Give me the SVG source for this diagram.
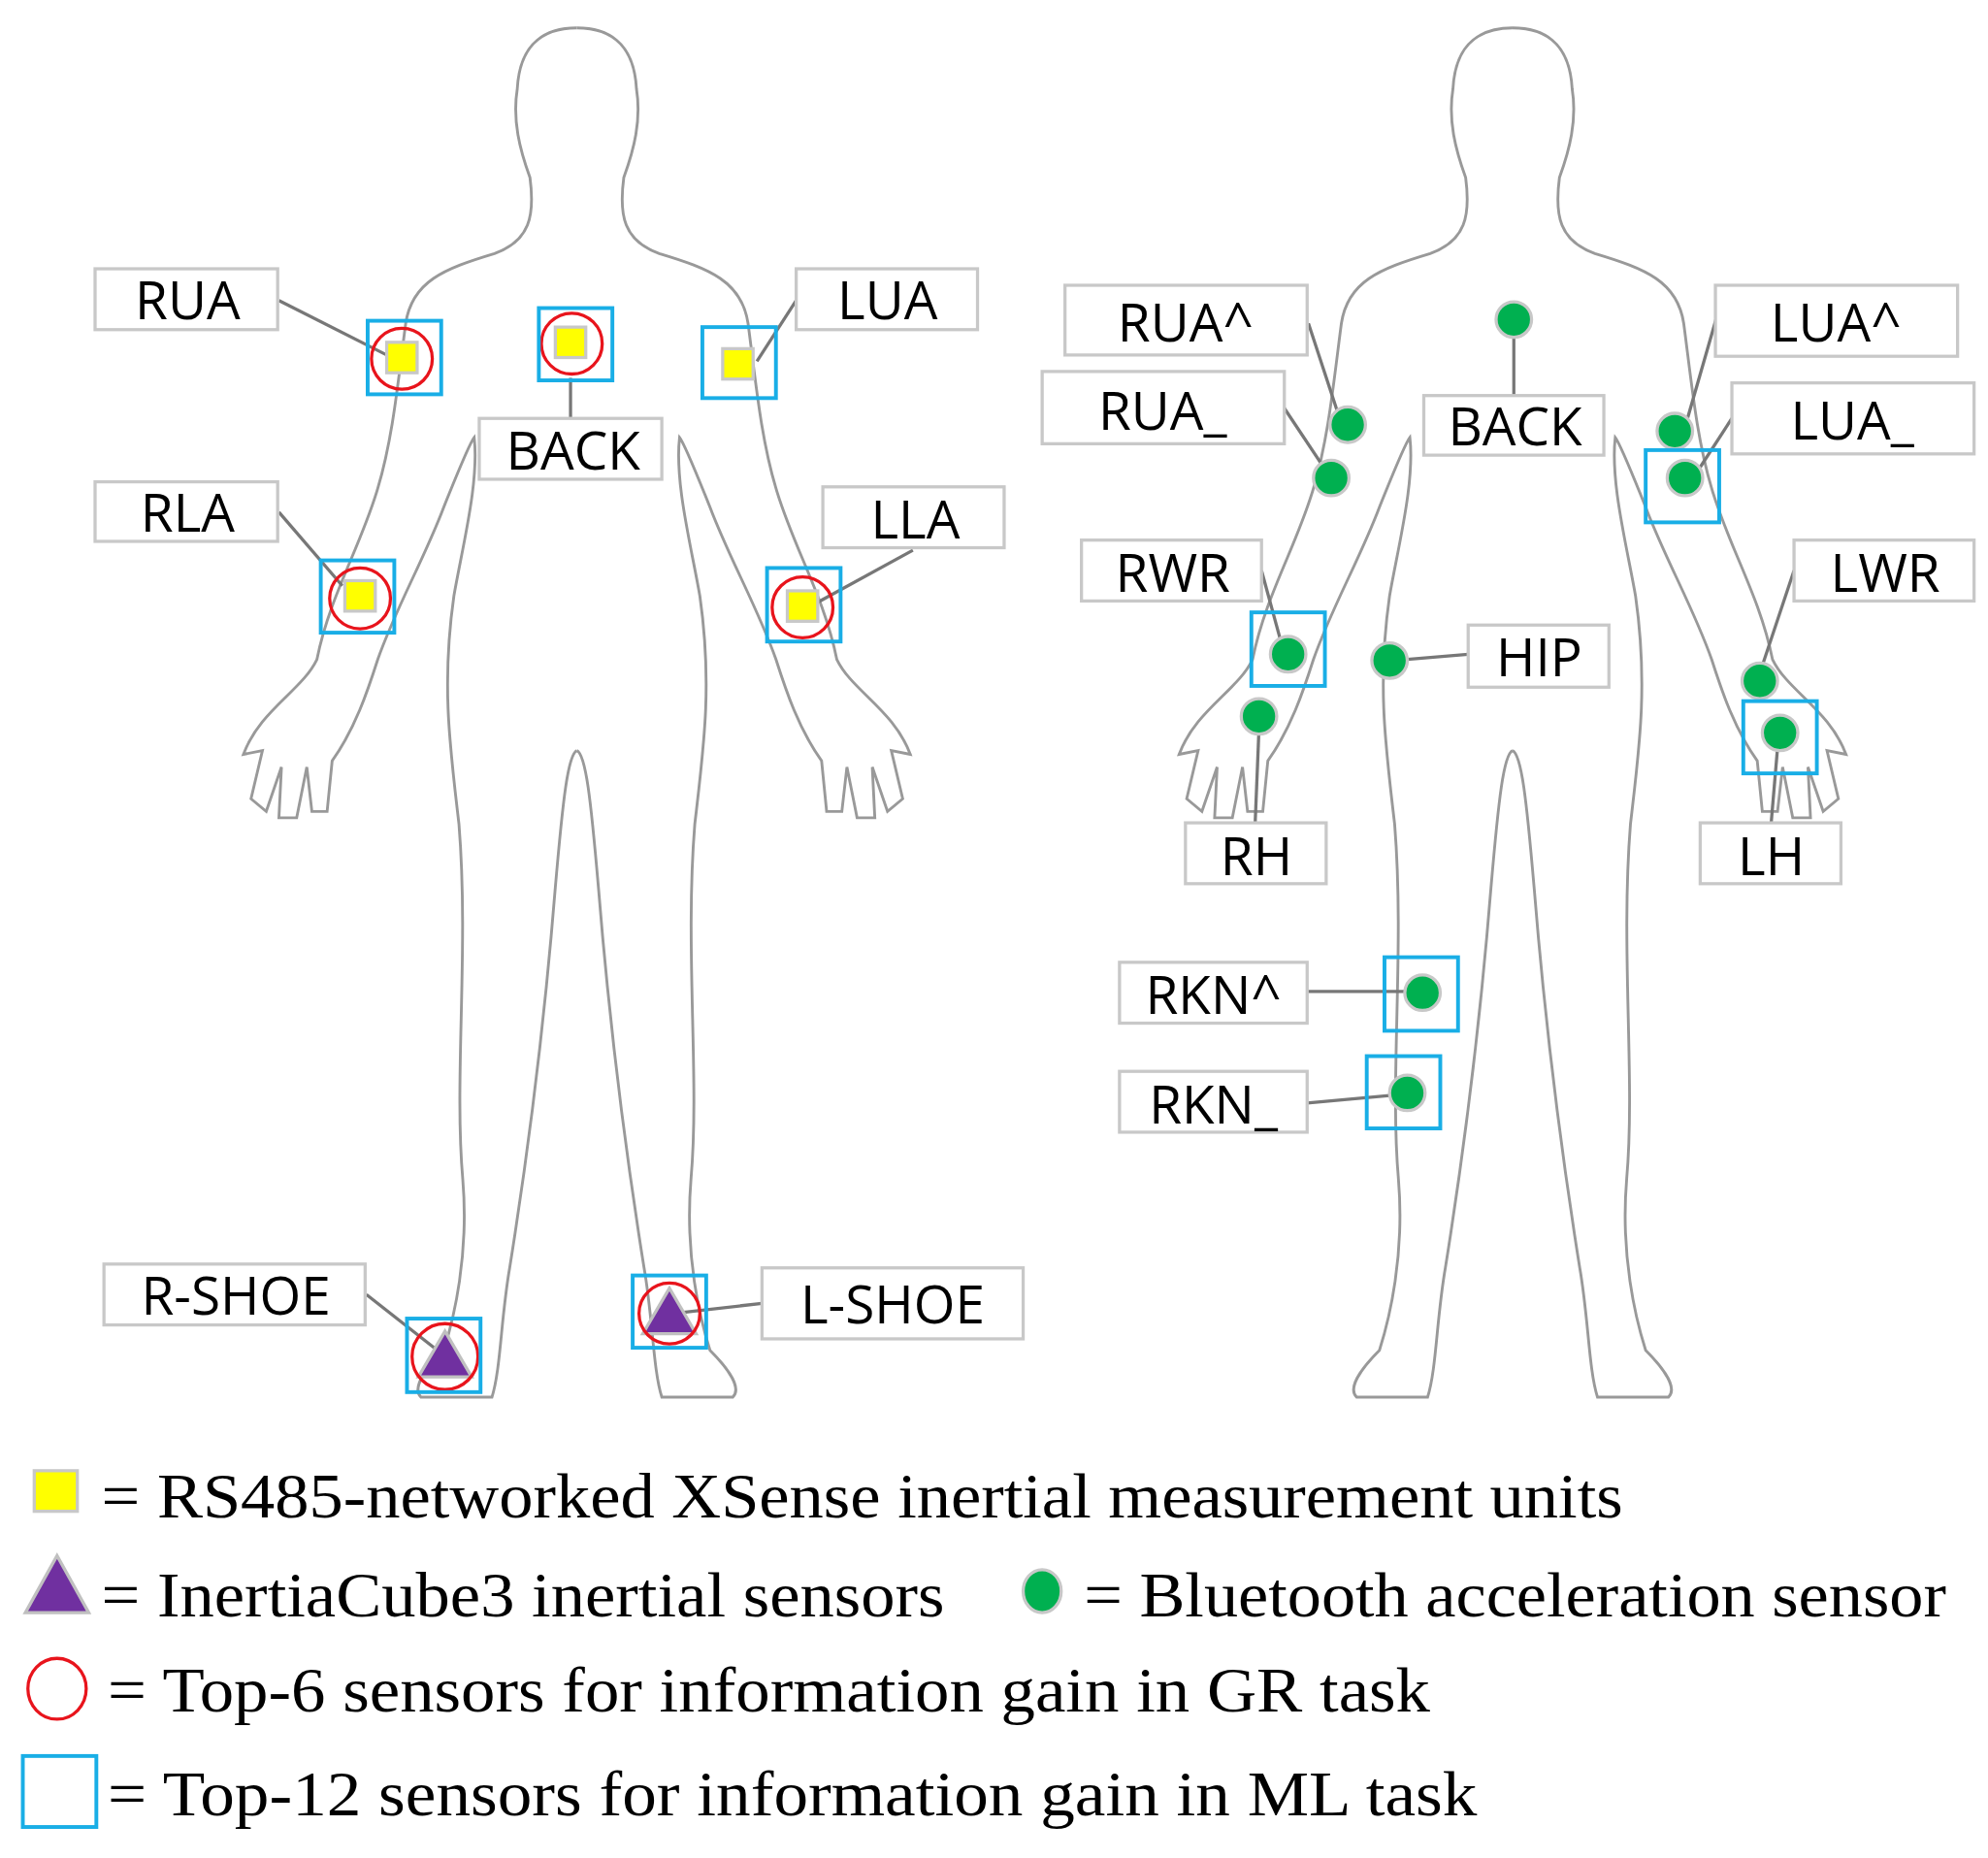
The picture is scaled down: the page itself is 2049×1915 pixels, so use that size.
<svg xmlns="http://www.w3.org/2000/svg" xmlns:xlink="http://www.w3.org/1999/xlink" width="2049" height="1915" viewBox="0 0 2049 1915">
<style>
.body{fill:none;stroke:#999;stroke-width:2.2}
.lb{fill:#fff;stroke:#c8c8c8;stroke-width:2.5}
.lt{font-family:"Open Sans","DejaVu Sans",sans-serif;font-size:42px;fill:#000;text-anchor:middle}
.ld{stroke:#777;stroke-width:2.5;fill:none}
.sq{fill:#ffff00;stroke:#c8c8c8;stroke-width:2.5}
.tri{fill:#7030a0;stroke:#c0c0c0;stroke-width:2.5}
.dot{fill:#00b050;stroke:#c8c8c8;stroke-width:2.5}
.rc{fill:none;stroke:#e8141c;stroke-width:2.5}
.bx{fill:none;stroke:#19aee6;stroke-width:3}
.lg{font-family:"Liberation Serif","Times New Roman",serif;font-size:50px;fill:#000}
</style>
<defs>
<path id="half" d="M455,22 C478,22 500,32 502,70 C506,95 500,118 492,140 C488,170 492,190 520,200 C560,212 585,222 590,255 C596,300 600,345 612,385 C625,430 650,470 660,520 C672,545 705,560 718,595 L703,592 L712,630 L700,640 L688,605 L690,645 L676,645 L668,605 L664,640 L652,640 L648,600 C630,575 620,545 612,520 C598,480 575,440 560,400 C548,370 540,350 536,345 C532,380 545,430 552,470 C562,540 555,590 548,650 C540,750 552,850 545,930 C540,990 552,1040 560,1065 C575,1080 585,1095 578,1102 L522,1102 C515,1080 515,1040 508,1000 C492,900 480,800 472,700 C466,630 462,595 455,592"/>
<g id="fig"><use xlink:href="#half" class="body"/><use xlink:href="#half" class="body" transform="translate(910,0) scale(-1,1)"/></g>
</defs>
<rect width="2049" height="1915" fill="#fff"/>
<g transform="scale(1.30676)">
<g id="figures"><use xlink:href="#fig"/><use xlink:href="#fig" transform="translate(738,0)"/></g>
<g id="connectors">
<path class="ld" d="M220,237 L305,280"/><path class="ld" d="M450,298 L450,330"/><path class="ld" d="M628,237 L597,285"/>
<path class="ld" d="M220,404 L270,462"/><path class="ld" d="M720,434 L645,475"/>
<path class="ld" d="M289,1021 L345,1065"/><path class="ld" d="M601,1028 L522,1037"/>
<path class="ld" d="M1194,266 L1194,312"/><path class="ld" d="M1032,255 L1055,325"/><path class="ld" d="M1013,322 L1043,367"/>
<path class="ld" d="M1354,250 L1331,330"/><path class="ld" d="M1366,330 L1340,370"/><path class="ld" d="M995,450 L1010,505"/>
<path class="ld" d="M993,575 L990,649"/><path class="ld" d="M1110,520 L1158,516"/><path class="ld" d="M1415,450 L1390,525"/>
<path class="ld" d="M1402,590 L1397,649"/><path class="ld" d="M1031,782 L1108,782"/><path class="ld" d="M1031,870 L1096,864"/>
</g>
<g id="n-RUA"><rect class="lb" x="75" y="212" width="144" height="48"/><text class="lt" x="148" y="252">RUA</text><rect class="sq" x="305" y="270" width="24" height="24"/><circle class="rc" cx="317" cy="283" r="24"/><rect class="bx" x="290" y="253" width="58" height="58"/></g>
<g id="n-BACK"><rect class="lb" x="378" y="330" width="144" height="48"/><text class="lt" x="452" y="370">BACK</text><rect class="sq" x="438" y="258" width="24" height="24"/><circle class="rc" cx="451" cy="271" r="24"/><rect class="bx" x="425" y="243" width="58" height="57"/></g>
<g id="n-LUA"><rect class="lb" x="628" y="212" width="143" height="48"/><text class="lt" x="700" y="252">LUA</text><rect class="sq" x="570" y="275" width="24" height="24"/><rect class="bx" x="554" y="258" width="58" height="56"/></g>
<g id="n-RLA"><rect class="lb" x="75" y="380" width="144" height="47"/><text class="lt" x="148" y="419">RLA</text><rect class="sq" x="272" y="458" width="24" height="24"/><circle class="rc" cx="284" cy="472" r="24"/><rect class="bx" x="253" y="442" width="58" height="57"/></g>
<g id="n-LLA"><rect class="lb" x="649" y="384" width="143" height="48"/><text class="lt" x="722" y="425">LLA</text><rect class="sq" x="621" y="466" width="24" height="24"/><circle class="rc" cx="633" cy="479" r="24"/><rect class="bx" x="605" y="448" width="58" height="58"/></g>
<g id="n-RSHOE"><rect class="lb" x="82" y="997" width="206" height="48"/><text class="lt" x="186" y="1037">R-SHOE</text><polygon class="tri" points="330,1086 372,1086 351,1050"/><circle class="rc" cx="351" cy="1070" r="26"/><rect class="bx" x="321" y="1040" width="58" height="58"/></g>
<g id="n-LSHOE"><rect class="lb" x="601" y="1000" width="206" height="56"/><text class="lt" x="704" y="1044">L-SHOE</text><polygon class="tri" points="507,1052 549,1052 528,1016"/><circle class="rc" cx="528" cy="1036" r="24"/><rect class="bx" x="499" y="1006" width="58" height="57"/></g>

<g id="n-RUAu"><rect class="lb" x="840" y="225" width="191" height="55"/><text class="lt" x="935" y="269">RUA^</text><circle class="dot" cx="1063" cy="335" r="14"/></g>
<g id="n-RUAd"><rect class="lb" x="822" y="293" width="191" height="57"/><text class="lt" x="917" y="339">RUA_</text><circle class="dot" cx="1050" cy="377" r="14"/></g>
<g id="n-BACK2"><rect class="lb" x="1123" y="312" width="142" height="47"/><text class="lt" x="1195" y="351">BACK</text><circle class="dot" cx="1194" cy="252" r="14"/></g>
<g id="n-LUAu"><rect class="lb" x="1353" y="225" width="191" height="56"/><text class="lt" x="1448" y="269">LUA^</text><circle class="dot" cx="1321" cy="340" r="14"/></g>
<g id="n-LUAd"><rect class="lb" x="1366" y="302" width="191" height="56"/><text class="lt" x="1461" y="347">LUA_</text><circle class="dot" cx="1329" cy="377" r="14"/><rect class="bx" x="1298" y="355" width="58" height="57"/></g>
<g id="n-RWR"><rect class="lb" x="853" y="426" width="142" height="48"/><text class="lt" x="925" y="467">RWR</text><circle class="dot" cx="1016" cy="516" r="14"/><rect class="bx" x="987" y="483" width="58" height="58"/></g>
<g id="n-HIP"><rect class="lb" x="1158" y="493" width="111" height="49"/><text class="lt" x="1214" y="533">HIP</text><circle class="dot" cx="1096" cy="521" r="14"/></g>
<g id="n-LWR"><rect class="lb" x="1415" y="426" width="142" height="48"/><text class="lt" x="1487" y="467">LWR</text><circle class="dot" cx="1388" cy="537" r="14"/></g>
<g id="n-RH"><rect class="lb" x="935" y="649" width="111" height="48"/><text class="lt" x="991" y="690">RH</text><circle class="dot" cx="993" cy="565" r="14"/></g>
<g id="n-LH"><rect class="lb" x="1341" y="649" width="111" height="48"/><text class="lt" x="1397" y="690">LH</text><circle class="dot" cx="1404" cy="578" r="14"/><rect class="bx" x="1375" y="553" width="58" height="57"/></g>
<g id="n-RKNu"><rect class="lb" x="883" y="759" width="148" height="48"/><text class="lt" x="957" y="800">RKN^</text><circle class="dot" cx="1122" cy="783" r="14"/><rect class="bx" x="1092" y="755" width="58" height="58"/></g>
<g id="n-RKNd"><rect class="lb" x="883" y="845" width="148" height="48"/><text class="lt" x="957" y="886">RKN_</text><circle class="dot" cx="1110" cy="862" r="14"/><rect class="bx" x="1078" y="833" width="58" height="57"/></g>

<g id="legend">
<rect class="sq" x="27" y="1160" width="34" height="32"/>
<text class="lg" x="80" y="1197" textLength="1200" lengthAdjust="spacingAndGlyphs">= RS485-networked XSense inertial measurement units</text>
<polygon class="tri" points="20,1272 70,1272 45,1227"/>
<text class="lg" x="80" y="1275" textLength="665" lengthAdjust="spacingAndGlyphs">= InertiaCube3 inertial sensors</text>
<ellipse class="dot" cx="822" cy="1255" rx="15" ry="17"/>
<text class="lg" x="855" y="1275" textLength="680" lengthAdjust="spacingAndGlyphs">= Bluetooth acceleration sensor</text>
<ellipse class="rc" cx="45" cy="1332" rx="23" ry="24"/>
<text class="lg" x="85" y="1350" textLength="1043" lengthAdjust="spacingAndGlyphs">= Top-6 sensors for information gain in GR task</text>
<rect class="bx" x="18" y="1385" width="58" height="56"/>
<text class="lg" x="85" y="1432" textLength="1080" lengthAdjust="spacingAndGlyphs">= Top-12 sensors for information gain in ML task</text>
</g>
</g>
</svg>
